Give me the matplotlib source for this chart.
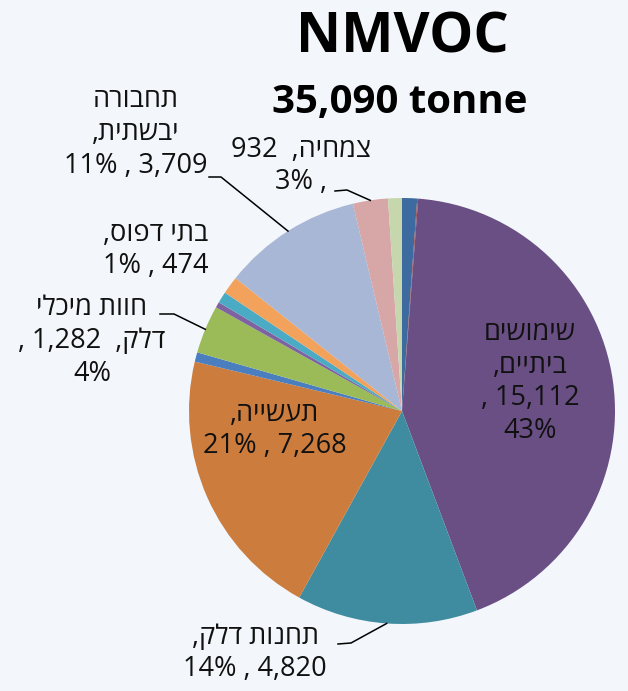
"""NMVOC emissions pie chart (Hebrew labels)"""
import re

import matplotlib
matplotlib.use('Agg')
import matplotlib.pyplot as plt
import numpy as np

FONT = ['Open Sans', 'DejaVu Sans']
plt.rcParams['font.family'] = FONT

W, H = 628, 691

# ---- data (clockwise from 12 o'clock) ----
sectors = ['dark_blue', 'red', 'home', 'fuel_st', 'industry', 'blue', 'tanks',
           'purple', 'cyan', 'print', 'transport', 'plants', 'light_green']
values = [400, 25, 15112, 4820, 7268, 250, 1282, 150, 300, 474, 3709, 932, 368]
colors = ['#3d6b9f', '#a04a4a', '#6a4f85', '#3f8ca1', '#cc7d3e', '#4a7ebf',
          '#9bbb59', '#7f63a1', '#4babc5', '#f3a25c', '#a8b7d5', '#d6a7a6',
          '#c6d7ae']
total = sum(values)

names = {
    'home': ['שימושים', 'ביתיים,'],
    'fuel_st': ['תחנות דלק,'],
    'industry': ['תעשייה,'],
    'tanks': ['חוות מיכלי', 'דלק,'],
    'print': ['בתי דפוס,'],
    'transport': ['תחבורה', 'יבשתית,'],
    'plants': ['צמחיה,'],
}


def vis(line):
    """logical RTL line -> visual order (numbers stay LTR)"""
    parts, pos = [], 0
    for m in re.finditer(r'\d[\d,]*\d%?|\d%?', line):
        if m.start() > pos:
            parts.append(line[pos:m.start()][::-1])
        parts.append(m.group())
        pos = m.end()
    if pos < len(line):
        parts.append(line[pos:][::-1])
    return ''.join(reversed(parts))


def num(k):
    v = values[sectors.index(k)]
    return f'{v:,}', f'{round(v / total * 100)}%'


def lines_for(k):
    n, p = num(k)
    nm = names[k]
    if k == 'home':
        return nm + [f'{n} ,', p]
    if k == 'tanks':
        return [nm[0], f'{nm[1]}  {n} ,', p]
    if k == 'plants':
        return [f'{nm[0]}  {n}', f', {p}']
    return nm + [f'{n} , {p}']


fig = plt.figure(figsize=(W / 100, H / 100), dpi=100)
fig.patch.set_facecolor('#f3f7fb')

# pie axes: centre (402, 411) px, radius 213 px
cx, cy, R = 402, 411, 213
ax = fig.add_axes([(cx - R) / W, (H - cy - R) / H, 2 * R / W, 2 * R / H])

wedges, _ = ax.pie(values, colors=colors, startangle=90, counterclock=False,
                   radius=1, wedgeprops=dict(linewidth=0))
ax.set_xlim(-1, 1)
ax.set_ylim(-1, 1)
ax.axis('off')


def px(x, y):
    return x / W, 1 - y / H


def edge_px(k, r=1.0):
    w = wedges[sectors.index(k)]
    a = np.deg2rad((w.theta1 + w.theta2) / 2)
    return cx + R * r * np.cos(a), cy - R * r * np.sin(a)


def label(k, x, y, size=19.5, spacing=1.22):
    txt = '\n'.join(vis(s) for s in lines_for(k))
    fig.text(*px(x, y), txt, ha='center', va='center', fontsize=size,
             linespacing=spacing, family=FONT, color='#111111')


# 标题
fig.text(*px(402, 38), 'NMVOC', ha='center', va='center', fontsize=40,
         fontweight='bold', color='black')
fig.text(*px(400, 102), '35,090 tonne', ha='center', va='center', fontsize=29,
         fontweight='bold', color='black')

# labels
label('transport', 136, 133)
label('plants', 301, 166)
label('print', 156, 250)
label('tanks', 92, 341)
label('industry', 275, 430)
label('home', 530, 382)
label('fuel_st', 255, 653)

# leader lines
leaders = [
    ('transport', [(209, 177), (221, 177)]),
    ('plants', [(335, 191), (347, 190)]),
    ('tanks', [(160, 314), (174, 314)]),
    ('fuel_st', [(338, 644), (351, 643)]),
]
for k, pts in leaders:
    ex, ey = edge_px(k)
    xs = [p[0] for p in pts] + [ex]
    ys = [p[1] for p in pts] + [ey]
    fig.add_artist(plt.Line2D([x / W for x in xs], [1 - y / H for y in ys],
                              color='black', lw=1.1))

fig.savefig('out.png', dpi=100, facecolor=fig.get_facecolor())
